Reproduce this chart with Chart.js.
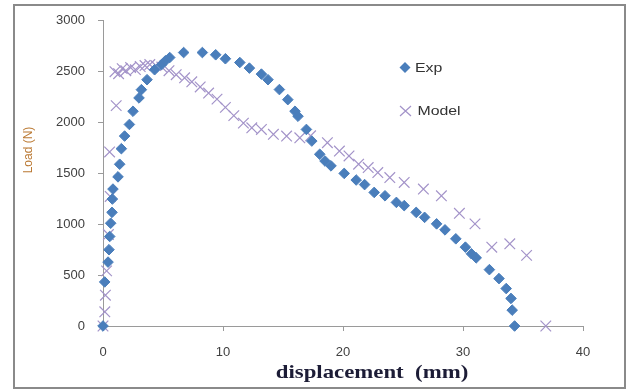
<!DOCTYPE html>
<html>
<head>
<meta charset="utf-8">
<script src="https://cdn.jsdelivr.net/npm/chart.js@4"></script>
<style>
  html, body { margin: 0; padding: 0; background: #fff; }
  #wrap { width: 633px; height: 390px; position: relative; }
</style>
</head>
<body>
<div id="wrap"><canvas id="myChart"></canvas></div>
<script>
// data
const expX = [0, 0.14, 0.42, 0.5, 0.56, 0.64, 0.75, 0.78, 0.83, 1.25, 1.39, 1.53, 1.8, 2.2, 2.5, 3.0, 3.2, 3.67, 4.3, 4.87, 5.2, 5.56, 6.72, 8.28, 9.39, 10.2, 11.4, 12.2, 13.2, 13.75, 14.7, 15.4, 16.0, 16.25, 16.95, 17.4, 18.06, 18.5, 19.0, 20.1, 21.1, 21.8, 22.6, 23.5, 24.45, 25.1, 26.1, 26.8, 27.8, 28.5, 29.4, 30.2, 30.7, 31.1, 32.2, 33.0, 33.6, 34.0, 34.1, 34.3];
const expY = [0, 433, 628, 750, 880, 1010, 1117, 1248, 1346, 1466, 1590, 1743, 1867, 1981, 2111, 2242, 2323, 2421, 2519, 2568, 2607, 2639, 2688, 2688, 2666, 2627, 2590, 2535, 2476, 2421, 2324, 2225, 2111, 2062, 1932, 1818, 1688, 1622, 1574, 1500, 1435, 1390, 1313, 1280, 1215, 1183, 1117, 1068, 1004, 945, 857, 775, 710, 670, 554, 466, 368, 271, 156, 0];

const modelX = [0, 0.15, 0.2, 0.3, 0.45, 0.6, 0.55, 1.1, 1.0, 1.3, 1.6, 1.9, 2.3, 2.7, 3.1, 3.5, 3.9, 4.4, 4.9, 5.5, 6.1, 6.8, 7.4, 8.1, 8.8, 9.5, 10.2, 10.9, 11.7, 12.4, 13.2, 14.2, 15.3, 16.4, 17.3, 18.7, 19.7, 20.5, 21.3, 22.1, 22.9, 23.9, 25.1, 26.7, 28.2, 29.7, 31.0, 32.4, 33.9, 35.3, 36.9];
const modelY = [0, 140, 303, 542, 899, 1273, 1711, 2166, 2500, 2480, 2530, 2510, 2540, 2520, 2550, 2560, 2570, 2560, 2545, 2510, 2470, 2440, 2400, 2350, 2290, 2230, 2149, 2068, 1994, 1948, 1932, 1884, 1867, 1850, 1870, 1802, 1720, 1672, 1590, 1557, 1508, 1459, 1411, 1346, 1280, 1108, 1004, 775, 808, 694, 0];

const xTicks = [0, 10, 20, 30, 40];
const yTicks = [0, 500, 1000, 1500, 2000, 2500, 3000];

const expPts = expX.map((x, i) => ({ x: x, y: expY[i] }));
const modelPts = modelX.map((x, i) => ({ x: x, y: modelY[i] }));

const blue = '#4a7ebb';
const purple = '#a393c9';
const sans = '"Liberation Sans", Arial, sans-serif';

// frame, axis titles and legend drawn on top (source image is stretched sideways)
const extras = {
  id: 'extras',
  afterDraw(chart) {
    const ctx = chart.ctx;
    ctx.save();
    ctx.strokeStyle = '#8a8a8a';
    ctx.lineWidth = 2;
    ctx.strokeRect(14, 5, 611, 383);
    ctx.restore();

    // y title
    ctx.save();
    ctx.translate(29, 150);
    ctx.rotate(-Math.PI / 2);
    ctx.fillStyle = '#bb7a34';
    ctx.font = '12px ' + sans;
    ctx.textAlign = 'center';
    ctx.textBaseline = 'middle';
    ctx.fillText('Load (N)', 0, 0);
    ctx.restore();

    // x title
    ctx.save();
    ctx.translate(372, 378);
    ctx.scale(1.2, 1);
    ctx.fillStyle = '#1c1c36';
    ctx.font = 'bold 19px "Liberation Serif", "Times New Roman", serif';
    ctx.textAlign = 'center';
    ctx.textBaseline = 'alphabetic';
    ctx.fillText('displacement  (mm)', 0, 0);
    ctx.restore();

    // legend
    ctx.save();
    ctx.fillStyle = blue;
    ctx.beginPath();
    ctx.moveTo(405, 62); ctx.lineTo(410.5, 67.5); ctx.lineTo(405, 73); ctx.lineTo(399.5, 67.5);
    ctx.closePath();
    ctx.fill();
    ctx.strokeStyle = purple;
    ctx.lineWidth = 1.2;
    ctx.beginPath();
    ctx.moveTo(400, 106); ctx.lineTo(411, 116);
    ctx.moveTo(411, 106); ctx.lineTo(400, 116);
    ctx.stroke();
    ctx.fillStyle = '#333333';
    ctx.font = '13px ' + sans;
    ctx.textBaseline = 'middle';
    ctx.translate(415, 0);
    ctx.scale(1.22, 1);
    ctx.fillText('Exp', 0, 68);
    ctx.fillText('Model', 2, 111);
    ctx.restore();
  }
};

const data = {
  datasets: [
    {
      label: 'Exp',
      data: expPts,
      pointStyle: 'rectRot',
      pointRadius: 5.3,
      pointBorderWidth: 1,
      backgroundColor: blue,
      borderColor: blue,
      showLine: false,
      clip: false,
    },
    {
      label: 'Model',
      data: modelPts,
      pointStyle: 'crossRot',
      pointRadius: 7.5,
      pointBorderWidth: 1.2,
      backgroundColor: purple,
      borderColor: purple,
      showLine: false,
      clip: false,
    },
  ],
};

const config = {
  type: 'scatter',
  data: data,
  plugins: [extras],
  options: {
    responsive: true,
    maintainAspectRatio: false,
    animation: false,
    layout: { padding: { left: 13, right: 50, top: 19, bottom: 4 } },
    plugins: {
      legend: { display: false },
      tooltip: { enabled: false },
    },
    scales: {
      x: {
        type: 'linear',
        min: 0,
        max: 40,
        afterFit: (s) => { s.height = 60; },
        afterBuildTicks: (s) => { s.ticks = xTicks.map(v => ({ value: v })); },
        border: { display: true, color: '#9a9a9a', width: 1 },
        grid: { drawOnChartArea: false, drawTicks: true, tickLength: 5, color: '#9a9a9a' },
        ticks: {
          padding: 14,
          color: '#404040',
          callback: (v) => String(v),
          font: { size: 13, family: sans },
        },
      },
      y: {
        type: 'linear',
        min: 0,
        max: 3000,
        afterFit: (s) => { s.width = 90; },
        afterBuildTicks: (s) => { s.ticks = yTicks.map(v => ({ value: v })); },
        border: { display: true, color: '#9a9a9a', width: 1 },
        grid: { drawOnChartArea: false, drawTicks: true, tickLength: 5, color: '#9a9a9a' },
        ticks: {
          padding: 13,
          color: '#404040',
          callback: (v) => String(v),
          font: { size: 13, family: sans },
        },
      },
    },
  },
};

const myChart = new Chart('myChart', config);
</script>
</body>
</html>
